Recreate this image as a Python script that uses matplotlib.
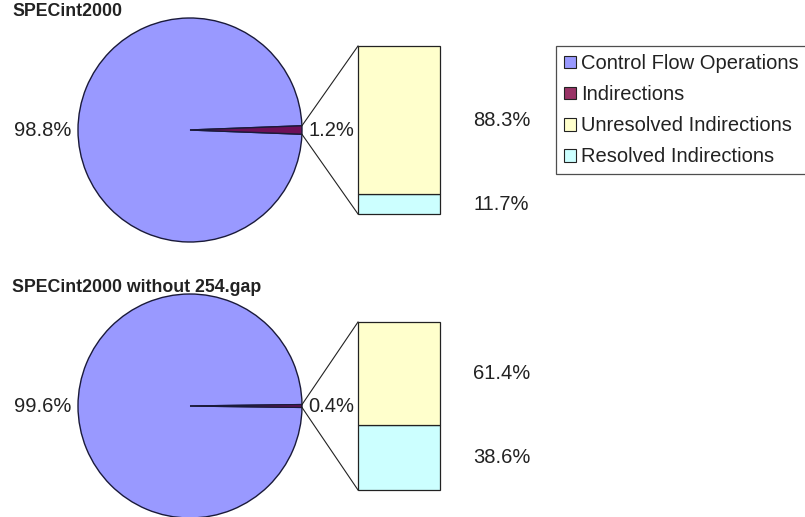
"""Pie-of-bar breakdown of control flow operations (SPECint2000)."""

import math

import matplotlib
matplotlib.use("Agg")
import matplotlib.pyplot as plt
from matplotlib.patches import Patch

plt.rcParams["font.family"] = ["Liberation Sans", "DejaVu Sans"]

# data
titles = ["SPECint2000", "SPECint2000 without 254.gap"]
pie_labels = ["Control Flow Operations", "Indirections"]
pie_values = [[98.8, 1.2], [99.6, 0.4]]
bar_labels = ["Resolved Indirections", "Unresolved Indirections"]
bar_values = [[11.7, 88.3], [38.6, 61.4]]

PIE_COLORS = ["#9999FF", "#6E1058"]
BAR_COLORS = ["#CCFFFF", "#FFFFCC"]
LEGEND_COLORS = ["#9999FF", "#993366", "#FFFFCC", "#CCFFFF"]
TEXT = "#222222"
H = 517  # figure height in px; layout below is given as pixel-from-top


def draw_panel(ax, top, title, pvals, bvals):
    cx, cy, r = 190, H - (top + 113), 112
    ax.text(12, H - (top - 5), title, fontsize=12.8, fontweight="bold",
            color=TEXT, va="center", ha="left")

    small = pvals[1] / sum(pvals) * 360
    # small slice centred on the 3 o'clock direction
    ax.pie(pvals, colors=PIE_COLORS, startangle=small / 2,
           center=(cx, cy), radius=r,
           wedgeprops=dict(edgecolor="#1a1a3a", linewidth=1.0))

    ax.text(cx - r - 7, cy, f"{pvals[0]:.1f}%", ha="right", va="center",
            fontsize=14.5, color=TEXT)
    ax.text(cx + r + 6, cy, f"{pvals[1]:.1f}%", ha="left", va="center",
            fontsize=14.5, color=TEXT)

    # stacked bar for the breakdown of the small slice
    bx, bw, bh = 399, 82, 168
    btop = H - (top + 29)
    bot = btop - bh
    scale = bh / sum(bvals)
    for v, c in zip(bvals, BAR_COLORS):
        ax.bar(bx, v * scale, bottom=bot, width=bw, color=c,
               edgecolor="#222222", linewidth=0.9)
        ax.text(473, bot + v * scale / 2, f"{v:.1f}%", ha="left",
                va="center", fontsize=14.5, color=TEXT)
        bot += v * scale

    # connector lines
    half = math.radians(small / 2)
    px = cx + r * math.cos(half)
    for sgn, yb in [(1, btop), (-1, btop - bh)]:
        py = cy + sgn * r * math.sin(half)
        ax.plot([px, bx - bw / 2], [py, yb], color="#222222", linewidth=0.8)


fig = plt.figure(figsize=(8.05, 5.17), dpi=100)
ax = fig.add_axes([0, 0, 1, 1])

draw_panel(ax, 17, titles[0], pie_values[0], bar_values[0])
draw_panel(ax, 293, titles[1], pie_values[1], bar_values[1])

ax.set_xlim(0, 805)
ax.set_ylim(0, H)
ax.set_aspect("auto")
ax.axis("off")

legend_labels = pie_labels + bar_labels[::-1]
handles = [Patch(facecolor=c, edgecolor="#222222", linewidth=0.8)
           for c in LEGEND_COLORS]
leg = ax.legend(handles, legend_labels, loc="upper left",
                bbox_to_anchor=(556, H - 46), bbox_transform=ax.transData,
                fontsize=14.5, frameon=True, fancybox=False, shadow=False,
                handlelength=0.6, handleheight=0.6, handletextpad=0.25,
                labelspacing=0.6, borderpad=0.4, borderaxespad=0)
leg.get_frame().set_edgecolor("#222222")
leg.get_frame().set_linewidth(0.9)
for t in leg.get_texts():
    t.set_color(TEXT)

fig.savefig("out.png", dpi=100)
